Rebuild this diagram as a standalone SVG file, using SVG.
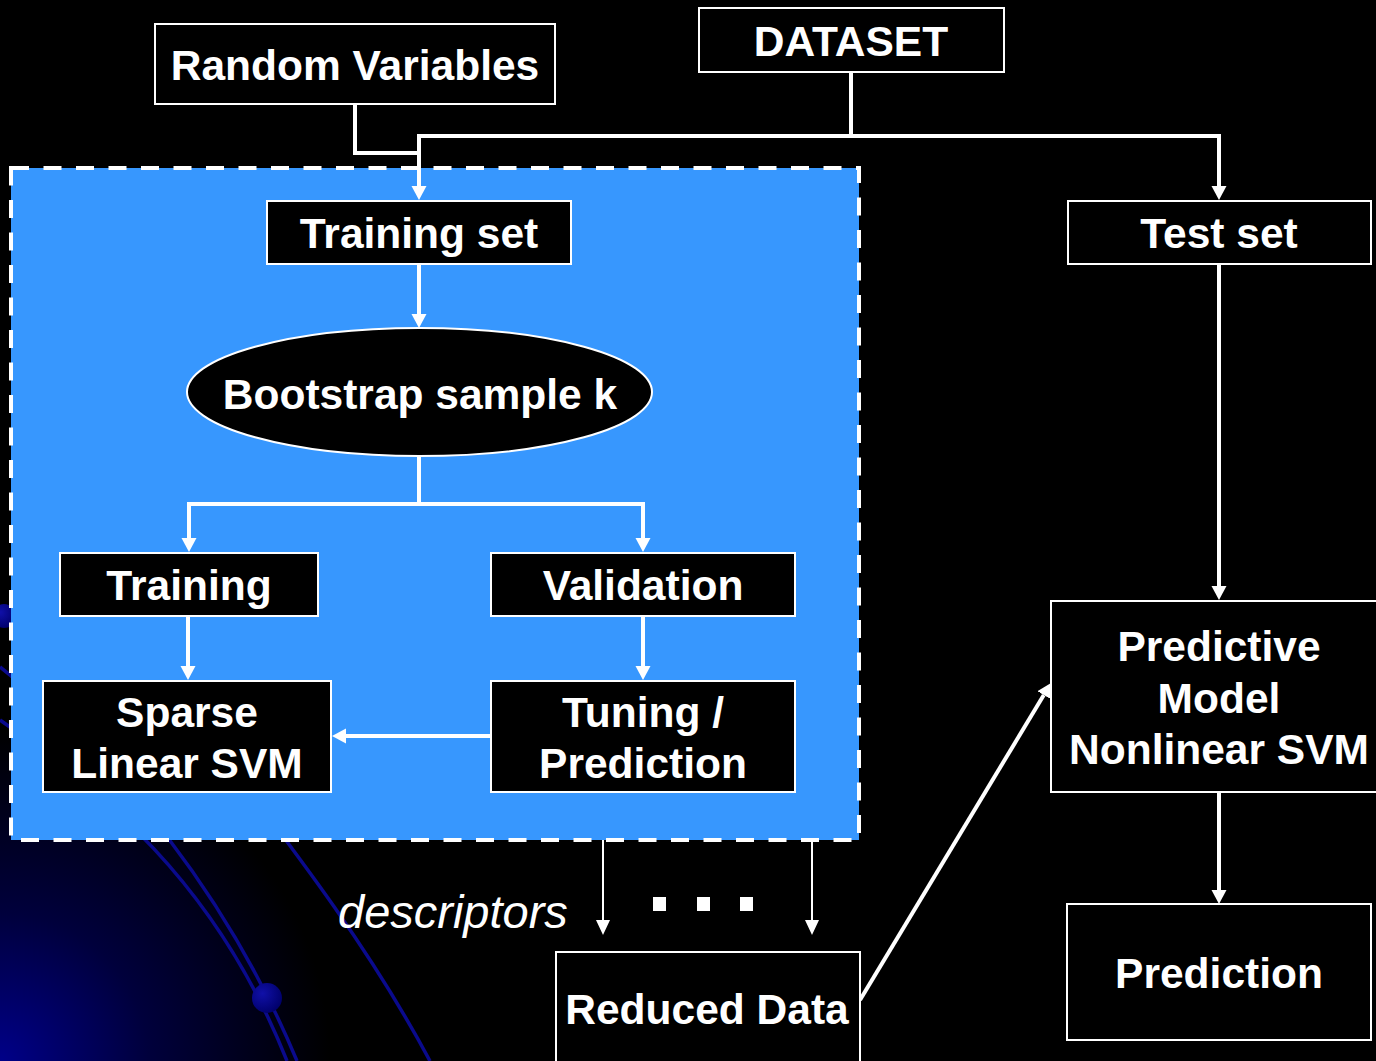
<svg xmlns="http://www.w3.org/2000/svg" width="1376" height="1061" viewBox="0 0 1376 1061">
  <style>
    .box { fill: #000; stroke: #fff; stroke-width: 2; }
    .lbl { fill: #fff; font-family: "Liberation Sans", Arial, sans-serif; font-weight: bold; font-size: 42.5px; text-anchor: middle; }
    .conn { fill: none; stroke: #fff; stroke-width: 4; stroke-linejoin: miter; }
    .thin { fill: none; stroke: #fff; stroke-width: 2; }
    .orbit { fill: none; stroke: #0a0a8c; stroke-width: 3.5; }
  </style>
  <defs>
    <radialGradient id="glow" cx="0" cy="1061" r="330" gradientUnits="userSpaceOnUse">
      <stop offset="0" stop-color="#000088"/>
      <stop offset="0.45" stop-color="#00003c"/>
      <stop offset="1" stop-color="#000000"/>
    </radialGradient>
    <radialGradient id="bead" cx="0.35" cy="0.35" r="0.7">
      <stop offset="0" stop-color="#1010a8"/>
      <stop offset="1" stop-color="#00006a"/>
    </radialGradient>
    <marker id="head" markerUnits="userSpaceOnUse" viewBox="0 -8 16 16" markerWidth="16" markerHeight="16" refX="0" refY="0" orient="auto">
      <path d="M0,-7.5 L14,0 L0,7.5 z" fill="#fff"/>
    </marker>
    <marker id="headThin" markerUnits="userSpaceOnUse" viewBox="0 -8 16 16" markerWidth="16" markerHeight="16" refX="0" refY="0" orient="auto">
      <path d="M0,-7 L15,0 L0,7 z" fill="#fff"/>
    </marker>
  </defs>

  <!-- slide background -->
  <rect x="0" y="0" width="1376" height="1061" fill="#000"/>
  <rect x="0" y="700" width="360" height="361" fill="url(#glow)"/>
  <g id="background-orbits">
    <path class="orbit" d="M0,667 C120,760 230,900 297,1061"/>
    <path class="orbit" d="M0,720 C100,790 215,880 287,1061"/>
    <path class="orbit" d="M180,700 C270,820 360,930 430,1061"/>
    <circle cx="267" cy="998" r="15" fill="url(#bead)"/>
    <circle cx="4" cy="616" r="12" fill="url(#bead)"/>
  </g>

  <!-- bootstrap loop region -->
  <g id="bootstrap-region">
    <rect x="11" y="168" width="848" height="672" fill="#3797fe" stroke="#fff" stroke-width="4" stroke-dasharray="18 14.5"/>
  </g>

  <g id="connectors">
    <path class="conn" d="M355,104 V153 H419"/>
    <path class="conn" d="M851,72 V136 H419 V186" marker-end="url(#head)"/>
    <path class="conn" d="M851,136 H1219 V186" marker-end="url(#head)"/>
    <path class="conn" d="M419,264 V314" marker-end="url(#head)"/>
    <path class="conn" d="M419,456 V504 H189 V538" marker-end="url(#head)"/>
    <path class="conn" d="M419,504 H643 V538" marker-end="url(#head)"/>
    <path class="conn" d="M188,616 V666" marker-end="url(#head)"/>
    <path class="conn" d="M643,616 V666" marker-end="url(#head)"/>
    <path class="conn" d="M491,736 H346" marker-end="url(#head)"/>
    <path class="conn" d="M1219,265 V586" stroke-width="3.5" marker-end="url(#head)"/>
    <path class="conn" d="M1219,792 V890" stroke-width="3.5" marker-end="url(#head)"/>
    <path class="conn" d="M860,1000 L1043.8,695" stroke-width="3" marker-end="url(#head)"/>
    <path class="thin" d="M603,840 V920" marker-end="url(#headThin)"/>
    <path class="thin" d="M812,840 V920" marker-end="url(#headThin)"/>
  </g>

  <g id="random-variables">
    <rect class="box" x="155" y="24" width="400" height="80"/>
    <text class="lbl" x="355" y="80">Random Variables</text>
  </g>
  <g id="dataset">
    <rect class="box" x="699" y="8" width="305" height="64"/>
    <text class="lbl" x="851" y="56">DATASET</text>
  </g>
  <g id="training-set">
    <rect class="box" x="267" y="201" width="304" height="63"/>
    <text class="lbl" x="419" y="248">Training set</text>
  </g>
  <g id="bootstrap-sample">
    <ellipse cx="419.5" cy="392" rx="232.5" ry="64" fill="#000" stroke="#fff" stroke-width="2"/>
    <text class="lbl" x="420" y="409">Bootstrap sample k</text>
  </g>
  <g id="training">
    <rect class="box" x="60" y="553" width="258" height="63"/>
    <text class="lbl" x="189" y="600">Training</text>
  </g>
  <g id="validation">
    <rect class="box" x="491" y="553" width="304" height="63"/>
    <text class="lbl" x="643" y="600">Validation</text>
  </g>
  <g id="sparse-linear-svm">
    <rect class="box" x="43" y="681" width="288" height="111"/>
    <text class="lbl" x="187" y="727">Sparse</text>
    <text class="lbl" x="187" y="778">Linear SVM</text>
  </g>
  <g id="tuning-prediction">
    <rect class="box" x="491" y="681" width="304" height="111"/>
    <text class="lbl" x="643" y="727">Tuning /</text>
    <text class="lbl" x="643" y="778">Prediction</text>
  </g>
  <g id="test-set">
    <rect class="box" x="1068" y="201" width="303" height="63"/>
    <text class="lbl" x="1219" y="248">Test set</text>
  </g>
  <g id="predictive-model">
    <rect class="box" x="1051" y="601" width="340" height="191"/>
    <text class="lbl" x="1219" y="661">Predictive</text>
    <text class="lbl" x="1219" y="713">Model</text>
    <text class="lbl" x="1219" y="764">Nonlinear SVM</text>
  </g>
  <g id="prediction">
    <rect class="box" x="1067" y="904" width="304" height="136"/>
    <text class="lbl" x="1219" y="988">Prediction</text>
  </g>
  <g id="reduced-data">
    <rect class="box" x="556" y="952" width="304" height="120"/>
    <text class="lbl" x="707" y="1024">Reduced Data</text>
  </g>

  <!-- descriptor label and ellipsis between the repeated outputs -->
  <text x="338" y="928" fill="#fff" font-family="'Liberation Sans', Arial, sans-serif" font-style="italic" font-size="47">descriptors</text>
  <g id="ellipsis" fill="#fff">
    <rect x="653" y="897" width="13" height="14"/>
    <rect x="697" y="897" width="13" height="14"/>
    <rect x="740" y="897" width="13" height="14"/>
  </g>
</svg>
